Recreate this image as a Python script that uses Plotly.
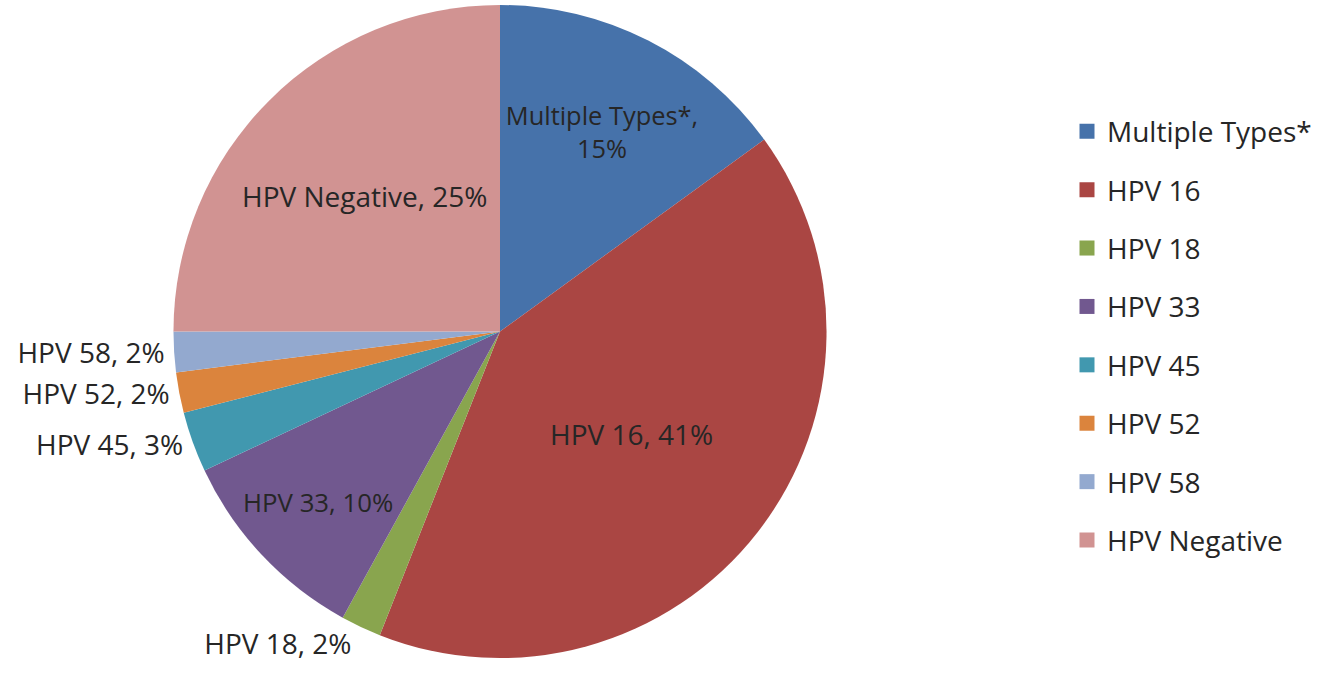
import plotly.graph_objects as go

categories = ["Multiple Types*", "HPV 16", "HPV 18", "HPV 33", "HPV 45", "HPV 52", "HPV 58", "HPV Negative"]
values = [15, 41, 2, 10, 3, 2, 2, 25]
slice_text = ["Multiple Types*,<br>15%", "HPV 16, 41%", "HPV 18, 2%", "HPV 33, 10%",
              "HPV 45, 3%", "HPV 52, 2%", "HPV 58, 2%", "HPV Negative, 25%"]
text_positions = ["inside", "inside", "outside", "inside", "outside", "outside", "outside", "inside"]
colors = ["#4672AA", "#AA4643", "#89A54E", "#71588F", "#4198AF", "#DB843D", "#93A9CF", "#D19392"]

W, H = 1338, 675
FONT = "Open Sans"
FS = 28
TXT = "#262626"

fig = go.Figure()
fig.add_trace(go.Pie(
    labels=categories, values=values, text=slice_text,
    texttemplate="%{text}", textposition=text_positions,
    insidetextorientation="horizontal",
    sort=False, direction="clockwise", rotation=0,
    marker=dict(colors=colors, line=dict(width=0)),
    textfont=dict(family=FONT, size=FS, color=TXT),
    insidetextfont=dict(family=FONT, size=FS, color=TXT),
    outsidetextfont=dict(family=FONT, size=FS, color=TXT),
    domain=dict(x=[172 / W, 828 / W], y=[(H - 658) / H, (H - 2) / H]),
    showlegend=False, hoverinfo="label+percent",
))

for i, (c, col) in enumerate(zip(categories, colors)):
    fig.add_trace(go.Scatter(
        x=[None], y=[None], mode="markers", name=c,
        marker=dict(symbol="square", size=15, color=col),
        legendgroup=str(i), showlegend=True,
    ))

fig.update_layout(
    width=W, height=H,
    margin=dict(l=0, r=0, t=0, b=0),
    paper_bgcolor="white", plot_bgcolor="white",
    xaxis=dict(visible=False), yaxis=dict(visible=False),
    legend=dict(x=1067 / W, y=(H - 104) / H, xanchor="left", yanchor="top",
                font=dict(family=FONT, size=FS, color=TXT),
                tracegroupgap=19, itemclick=False),
)

fig.write_html("out.html")
